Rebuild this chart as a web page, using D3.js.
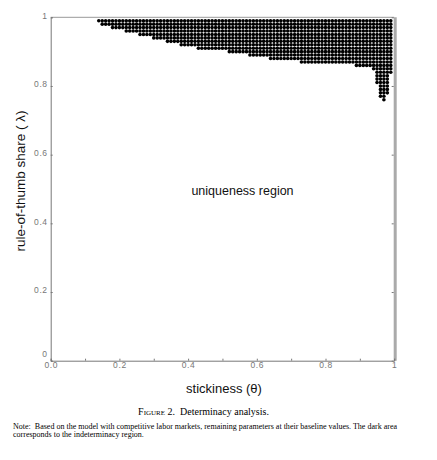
<!DOCTYPE html>
<html>
<head>
<meta charset="utf-8">
<script src="https://cdn.jsdelivr.net/npm/d3@7"></script>
<style>
	body { margin: 0; background: #fff; }
	text { font-family: "Liberation Sans", Arial, sans-serif; }
	.tick text { fill: #777; font-size: 8.5px; letter-spacing: 0.6px; }
	.caption { font-family: "Liberation Serif", "Times New Roman", serif; fill: #000; }
</style>
</head>
<body>
<div id="graph"></div>
<script>
// indeterminacy region: for each stickiness column starting at thetaFrom[i],
// the lowest rule-of-thumb share that is still indeterminate
var thetaFrom = [0.14, 0.15, 0.18, 0.22, 0.26, 0.30, 0.34, 0.38, 0.43, 0.52, 0.58, 0.64, 0.73, 0.89, 0.94, 0.95, 0.96, 0.97, 0.98, 0.99];
var lambdaMin = [0.99, 0.98, 0.97, 0.96, 0.95, 0.94, 0.93, 0.92, 0.91, 0.90, 0.89, 0.88, 0.87, 0.86, 0.85, 0.81, 0.77, 0.76, 0.78, 0.84];
var gridStep = 0.01, gridMax = 0.99;

var xTicks = [0, 0.2, 0.4, 0.6, 0.8, 1],
	xMinorTicks = [0.1, 0.3, 0.5, 0.7, 0.9],
	yTicks = [0, 0.2, 0.4, 0.6, 0.8, 1];

var	width = 437,
	height = 460,
	margin = {top: 17.3, right: 42.8, bottom: 99.3, left: 50.7};

var svg = d3.select('div#graph')
				.append('svg')
				.attr('width', width)
				.attr('height', height)
				.style('background', '#fff');

var x = d3.scaleLinear()
				.domain([0, 1])
				.range([margin.left, width - margin.right]),
	y = d3.scaleLinear()
				.domain([0, 1])
				.range([height - margin.bottom, margin.top]);

// build the scanned grid points inside the region
var points = [];
thetaFrom.forEach(function(t0, i){
	var t1 = i < thetaFrom.length - 1 ? thetaFrom[i + 1] : gridMax + gridStep;
	var nCols = Math.round((t1 - t0) / gridStep);
	var nRows = Math.round((gridMax - lambdaMin[i]) / gridStep);
	for (var c = 0; c < nCols; c++){
		for (var r = 0; r <= nRows; r++){
			points.push({theta: t0 + c * gridStep, lambda: lambdaMin[i] + r * gridStep});
		}
	}
});

svg.append("g")
	.attr("class", "region")
	.selectAll("circle")
	.data(points).enter()
	.append("circle")
	.attr("cx", function(d){ return x(d.theta); })
	.attr("cy", function(d){ return y(d.lambda); })
	.attr("r", 1.8)
	.attr("fill", "#000");

// frame
svg.append("line")
	.attr("x1", x(0)).attr("x2", x(1))
	.attr("y1", y(1)).attr("y2", y(1))
	.attr("stroke", "#999").attr("stroke-width", 1);
svg.append("line")
	.attr("x1", x(1) + 1).attr("x2", x(1) + 1)
	.attr("y1", y(1)).attr("y2", y(0))
	.attr("stroke", "#aaa").attr("stroke-width", 3);

var xAxis = svg.append("g")
	.attr("transform", "translate(0," + y(0) + ")")
	.call(d3.axisBottom(x)
		.tickValues(xTicks)
		.tickSize(-2)
		.tickPadding(1)
		.tickFormat(function(d){ return d === 1 ? "1" : d.toFixed(1); }));

svg.append("g")
	.attr("transform", "translate(0," + y(0) + ")")
	.call(d3.axisBottom(x).tickValues(xMinorTicks).tickSize(-2).tickFormat(""))
	.select(".domain").remove();

var yAxis = svg.append("g")
	.attr("transform", "translate(" + x(0) + ",0)")
	.call(d3.axisLeft(y)
		.tickValues(yTicks)
		.tickSize(-2)
		.tickPadding(3)
		.tickFormat(function(d){ return d === 0 || d === 1 ? d3.format("d")(d) : d.toFixed(1); }));

svg.append("g")
	.attr("transform", "translate(" + (x(1) - 0.5) + ",0)")
	.call(d3.axisRight(y).tickValues(yTicks).tickSize(-2).tickFormat(""))
	.select(".domain").remove();

svg.selectAll(".domain").attr("stroke", "#777");
svg.selectAll(".tick line").attr("stroke", "#777");
yAxis.selectAll(".tick text").attr("dy", "0.1em");
// the "0" sits just above the "0.0" of the x axis
yAxis.selectAll(".tick text").filter(function(d){ return d === 0; }).attr("dy", "-0.55em");

// titles
svg.append("text")
	.attr("transform", "translate(25,181) rotate(-90)")
	.attr("text-anchor", "middle")
	.style("font-size", "13.5px")
	.attr("fill", "#111")
	.text("rule-of-thumb share ( λ)");

svg.append("text")
	.attr("x", 224)
	.attr("y", 393)
	.attr("text-anchor", "middle")
	.style("font-size", "13px")
	.attr("fill", "#111")
	.text("stickiness (θ)");

svg.append("text")
	.attr("x", 242.5)
	.attr("y", 195)
	.attr("text-anchor", "middle")
	.style("font-size", "12.5px")
	.attr("fill", "#111")
	.text("uniqueness region");

// caption
var cap = svg.append("text")
	.attr("class", "caption")
	.attr("x", 203.5)
	.attr("y", 415)
	.attr("text-anchor", "middle")
	.style("font-size", "10px");
cap.append("tspan").style("font-variant", "small-caps").text("Figure 2.");
cap.append("tspan").text("\u00a0 Determinacy analysis.");

svg.append("text")
	.attr("class", "caption")
	.attr("x", 13)
	.attr("y", 428.5)
	.attr("textLength", 384)
	.attr("lengthAdjust", "spacingAndGlyphs")
	.style("font-size", "8px")
	.text("Note:\u00a0 Based on the model with competitive labor markets, remaining parameters at their baseline values. The dark area");

svg.append("text")
	.attr("class", "caption")
	.attr("x", 13)
	.attr("y", 437)
	.style("font-size", "8px")
	.text("corresponds to the indeterminacy region.");
</script>
</body>
</html>
